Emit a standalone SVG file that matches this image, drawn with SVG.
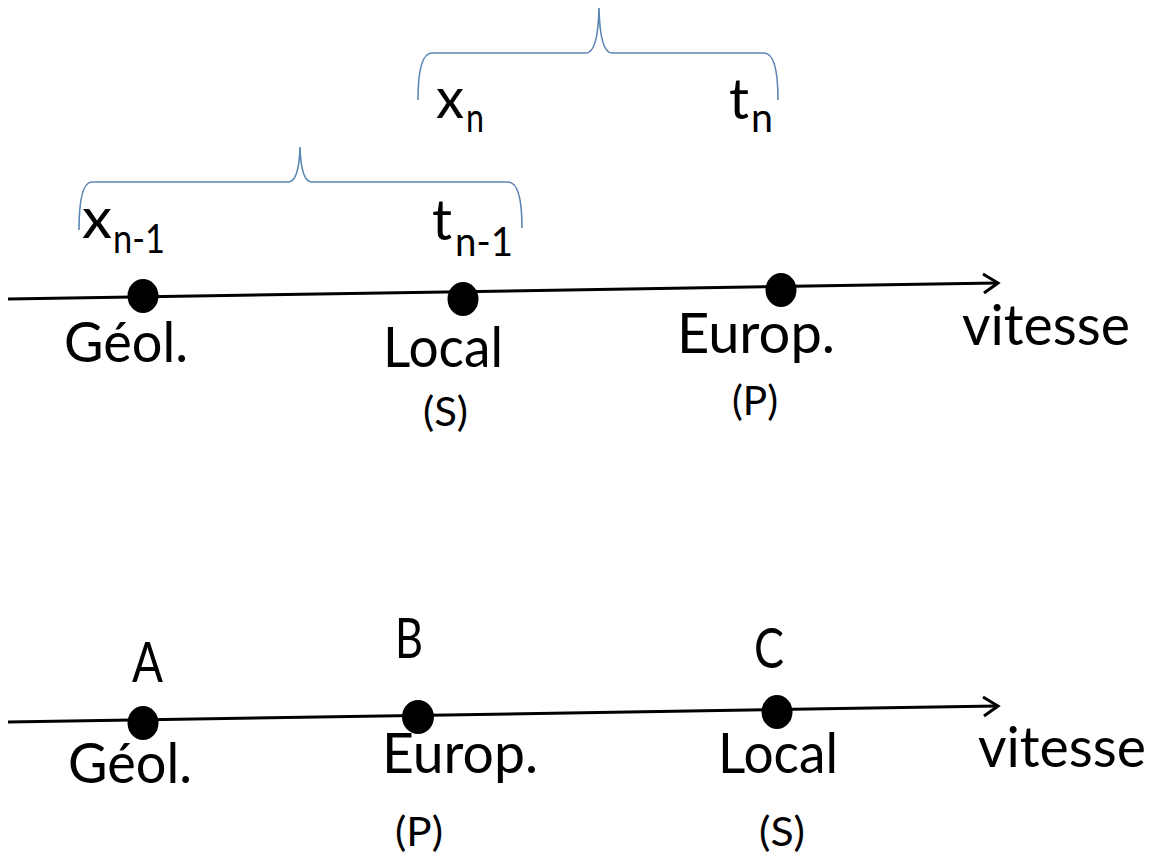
<svg xmlns="http://www.w3.org/2000/svg" width="1153" height="857" viewBox="0 0 1153 857">
<style>
.lbl{font-family:Lato,"Liberation Sans",sans-serif;font-size:56px;fill:#000}
.sm{font-family:Lato,"Liberation Sans",sans-serif;font-size:40px;fill:#000}
.sub{font-family:Lato,"Liberation Sans",sans-serif;font-size:40px;fill:#000}
.axis{stroke:#000;stroke-width:3;fill:none}
.brace{stroke:#5a86b3;stroke-width:1.6;fill:none}
.dot{fill:#000}
</style>
<rect width="1153" height="857" fill="#fff"/>
<g id="connectors">
<path class="axis" d="M8,299 L997,283"/>
<path class="axis" d="M983,274 L998,283 L984,293"/>
<path class="axis" d="M8,722 L997,706"/>
<path class="axis" d="M983,697 L998,706 L984,716"/>
<path class="brace" d="M418,100 Q418,53 432,53 L586,53 Q598,53 599,8 Q600,53 612,53 L764,53 Q778,53 778,100"/>
<path class="brace" d="M79,230 Q79,182 92,182 L288,182 Q299,182 300,147 Q301,182 312,182 L508,182 Q522,182 522,228"/>
</g>
<g id="top-labels">
<text class="lbl" x="436" y="118" textLength="28" lengthAdjust="spacingAndGlyphs">x</text>
<text class="sub" x="466" y="132" textLength="18" lengthAdjust="spacingAndGlyphs">n</text>
<text class="lbl" x="729" y="119" textLength="20" lengthAdjust="spacingAndGlyphs">t</text>
<text class="sub" x="751" y="132" textLength="22" lengthAdjust="spacingAndGlyphs">n</text>
<text class="lbl" x="82" y="238" textLength="30" lengthAdjust="spacingAndGlyphs">x</text>
<text class="sub" x="113" y="253" textLength="52" lengthAdjust="spacingAndGlyphs">n-1</text>
<text class="lbl" x="432" y="240" textLength="20" lengthAdjust="spacingAndGlyphs">t</text>
<text class="sub" x="455" y="256" textLength="58" lengthAdjust="spacingAndGlyphs">n-1</text>
</g>
<g id="n-geol1"><ellipse class="dot" cx="143" cy="296" rx="15.5" ry="17"/>
<text class="lbl" x="64" y="362" textLength="124" lengthAdjust="spacingAndGlyphs">Géol.</text></g>
<g id="n-local1"><ellipse class="dot" cx="463" cy="299" rx="15.5" ry="17"/>
<text class="lbl" x="383" y="367" textLength="120" lengthAdjust="spacingAndGlyphs">Local</text>
<text class="sm" x="423" y="426" textLength="45" lengthAdjust="spacingAndGlyphs">(S)</text></g>
<g id="n-europ1"><ellipse class="dot" cx="781" cy="290" rx="15.5" ry="17"/>
<text class="lbl" x="677" y="353" textLength="158" lengthAdjust="spacingAndGlyphs">Europ.</text>
<text class="sm" x="732" y="415" textLength="46" lengthAdjust="spacingAndGlyphs">(P)</text></g>
<g id="n-vitesse1"><text class="lbl" x="962" y="345" textLength="168" lengthAdjust="spacingAndGlyphs">vitesse</text></g>
<g id="n-geol2"><ellipse class="dot" cx="143" cy="723" rx="15.5" ry="17"/>
<text class="lbl" x="132" y="682" textLength="31" lengthAdjust="spacingAndGlyphs">A</text>
<text class="lbl" x="68" y="783" textLength="124" lengthAdjust="spacingAndGlyphs">Géol.</text></g>
<g id="n-europ2"><ellipse class="dot" cx="418" cy="717" rx="16" ry="17"/>
<text class="lbl" x="395" y="658" textLength="28" lengthAdjust="spacingAndGlyphs">B</text>
<text class="lbl" x="382" y="773" textLength="156" lengthAdjust="spacingAndGlyphs">Europ.</text>
<text class="sm" x="395" y="846" textLength="48" lengthAdjust="spacingAndGlyphs">(P)</text></g>
<g id="n-local2"><ellipse class="dot" cx="777" cy="712" rx="15.5" ry="17"/>
<text class="lbl" x="754" y="668" textLength="30" lengthAdjust="spacingAndGlyphs">C</text>
<text class="lbl" x="718" y="773" textLength="120" lengthAdjust="spacingAndGlyphs">Local</text>
<text class="sm" x="759" y="846" textLength="46" lengthAdjust="spacingAndGlyphs">(S)</text></g>
<g id="n-vitesse2"><text class="lbl" x="978" y="767" textLength="168" lengthAdjust="spacingAndGlyphs">vitesse</text></g>
</svg>
